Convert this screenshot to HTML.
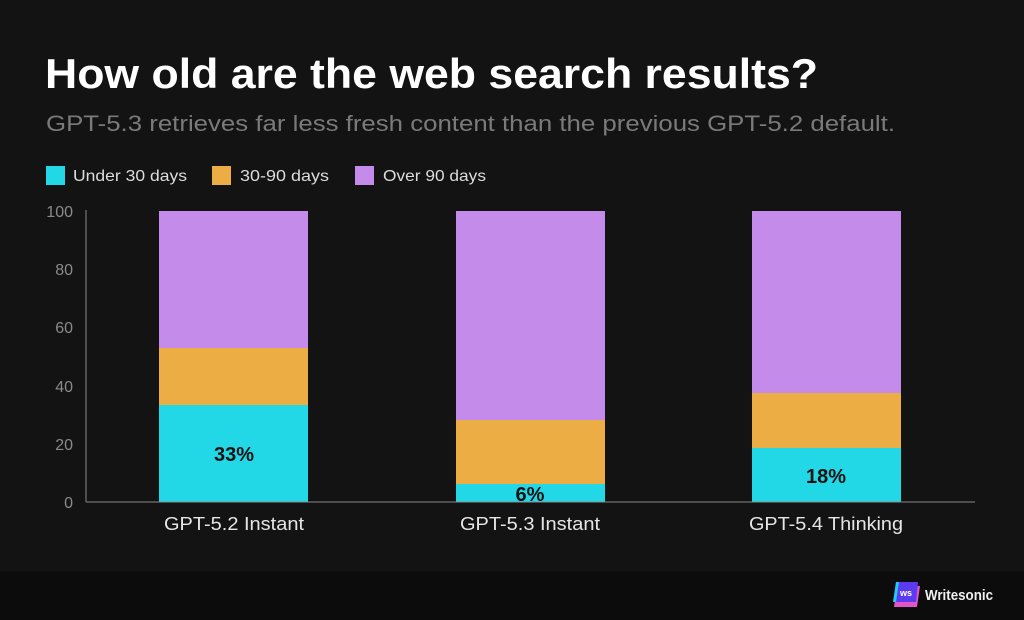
<!DOCTYPE html>
<html><head><meta charset="utf-8"><style>
html,body{margin:0;padding:0;background:#131313;}
svg{display:block}
</style></head><body>
<svg width="1024" height="620" xmlns="http://www.w3.org/2000/svg" font-family="Liberation Sans, sans-serif">
<rect x="0" y="0" width="1024" height="571" fill="#131313"/>
<rect x="0" y="571" width="1024" height="49" fill="#0c0c0c"/>
<text x="45" y="88" font-size="42" font-weight="bold" fill="#ffffff" textLength="773" lengthAdjust="spacingAndGlyphs">How old are the web search results?</text>
<text x="46" y="131" font-size="22" fill="#7a7a7a" textLength="849" lengthAdjust="spacingAndGlyphs">GPT-5.3 retrieves far less fresh content than the previous GPT-5.2 default.</text>
<rect x="46" y="166" width="19" height="19" fill="#22d8e6"/>
<text x="73" y="181" font-size="16" fill="#dddddd" textLength="114" lengthAdjust="spacingAndGlyphs">Under 30 days</text>
<rect x="212" y="166" width="19" height="19" fill="#ecad45"/>
<text x="240" y="181" font-size="16" fill="#dddddd" textLength="89" lengthAdjust="spacingAndGlyphs">30-90 days</text>
<rect x="355" y="166" width="19" height="19" fill="#c58beb"/>
<text x="383" y="181" font-size="16" fill="#dddddd" textLength="103" lengthAdjust="spacingAndGlyphs">Over 90 days</text>
<g font-size="16" fill="#8a8a8a" text-anchor="end">
<text x="73" y="217">100</text><text x="73" y="275">80</text><text x="73" y="333">60</text>
<text x="73" y="392">40</text><text x="73" y="450">20</text><text x="73" y="508">0</text>
</g>
<rect x="159" y="211" width="149" height="137" fill="#c58beb"/>
<rect x="159" y="348" width="149" height="57" fill="#ecad45"/>
<rect x="159" y="405" width="149" height="97" fill="#22d8e6"/>
<rect x="456" y="211" width="149" height="209" fill="#c58beb"/>
<rect x="456" y="420" width="149" height="64" fill="#ecad45"/>
<rect x="456" y="484" width="149" height="18" fill="#22d8e6"/>
<rect x="752" y="211" width="149" height="182" fill="#c58beb"/>
<rect x="752" y="393" width="149" height="55" fill="#ecad45"/>
<rect x="752" y="448" width="149" height="54" fill="#22d8e6"/>
<line x1="86" y1="210" x2="86" y2="502" stroke="#8a8a8a" stroke-width="1"/>
<line x1="86" y1="502" x2="975" y2="502" stroke="#8a8a8a" stroke-width="1"/>
<g font-size="20" font-weight="bold" fill="#111" text-anchor="middle">
<text x="234" y="461">33%</text><text x="530" y="501">6%</text><text x="826" y="483">18%</text>
</g>
<g font-size="18" fill="#e6e6e6" text-anchor="middle">
<text x="234" y="530" textLength="140" lengthAdjust="spacingAndGlyphs">GPT-5.2 Instant</text>
<text x="530" y="530" textLength="140" lengthAdjust="spacingAndGlyphs">GPT-5.3 Instant</text>
<text x="826" y="530" textLength="154" lengthAdjust="spacingAndGlyphs">GPT-5.4 Thinking</text>
</g>
<path d="M897,586 L920,586 L917,607 L894,607 Z" fill="#e255c8"/>
<path d="M896,582 L918,582 L916,602 L893,602 Z" fill="#5b3bf0"/>
<path d="M896,582 L899,582 L896,602 L893,602 Z" fill="#22c8f0"/>
<text x="906" y="596" font-size="9" font-weight="bold" fill="#fff" text-anchor="middle">ws</text>
<text x="925" y="600" font-size="15" font-weight="bold" fill="#f0f0f0" textLength="68" lengthAdjust="spacingAndGlyphs">Writesonic</text>
</svg>
</body></html>
